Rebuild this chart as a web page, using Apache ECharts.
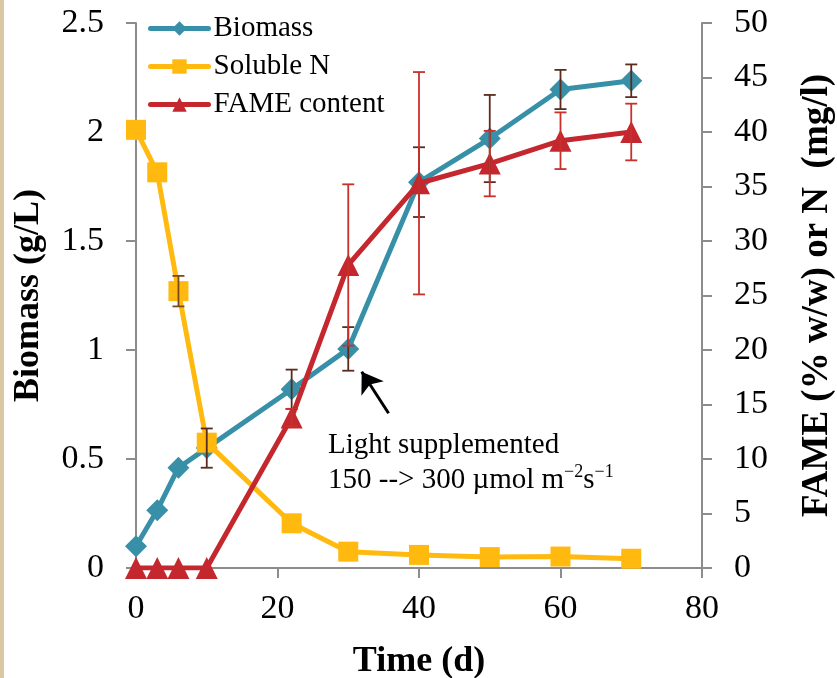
<!DOCTYPE html>
<html>
<head>
<meta charset="utf-8">
<script src="https://cdn.jsdelivr.net/npm/echarts@6/dist/echarts.min.js"></script>
<style>
  html, body { margin: 0; padding: 0; background: #fff; }
  #main { width: 837px; height: 678px; }
</style>
</head>
<body>
<div id="main"></div>
<script>
// data
var days = [0, 3, 6, 10, 22, 30, 40, 50, 60, 70];
var biomass = [0.10, 0.265, 0.46, 0.55, 0.82, 1.005, 1.77, 1.97, 2.195, 2.235];
var biomassErr = [0, 0, 0, 0.09, 0.09, 0.10, 0.16, 0.20, 0.09, 0.075];
var solubleN = [40.2, 36.3, 25.4, 11.5, 4.1, 1.5, 1.2, 1.0, 1.05, 0.85];
var solubleNErr = [0, 0, 1.4, 0, 0, 0, 0, 0, 0, 0];
var fame = [0, 0, 0, 0, 13.8, 27.8, 35.3, 37.1, 39.2, 40.0];
var fameErr = [0, 0, 0, 0, 0.8, 7.4, 10.2, 3.0, 2.6, 2.6];

var FONT = 'Liberation Serif';
var C_BIO = '#3890a8', C_N = '#ffb90f', C_FAME = '#c4282e';

function pairs(ys) { return days.map(function (d, i) { return [d, ys[i]]; }); }
function triples(ys, es) { return days.map(function (d, i) { return [d, ys[i], es[i]]; }); }

// I-beam error bars
function errBars(color) {
  return function (params, api) {
    var e = api.value(2);
    if (!e) return null;
    var x = api.value(0), y = api.value(1);
    var t = api.coord([x, y + e]), b = api.coord([x, y - e]);
    var w = 6, st = { stroke: color, lineWidth: 1.8 };
    return {
      type: 'group',
      children: [
        { type: 'line', shape: { x1: t[0], y1: t[1], x2: b[0], y2: b[1] }, style: st },
        { type: 'line', shape: { x1: t[0] - w, y1: t[1], x2: t[0] + w, y2: t[1] }, style: st },
        { type: 'line', shape: { x1: b[0] - w, y1: b[1], x2: b[0] + w, y2: b[1] }, style: st }
      ]
    };
  };
}

var myChart = echarts.init(document.getElementById('main'));
var axisLineStyle = { show: true, lineStyle: { color: '#8c8c8c', width: 2 } };
var tickStyle = { show: true, inside: false, length: 10, lineStyle: { color: '#8c8c8c', width: 2 } };
var labelStyle = { fontFamily: FONT, fontSize: 34, color: '#000', margin: 32 };
var titleStyle = { fontFamily: FONT, fontSize: 36, fontWeight: 'bold', color: '#000' };

var option = {
  backgroundColor: '#fff',
  animation: false,
  grid: { left: 136, right: 135, top: 23, bottom: 110, containLabel: false, outerBoundsMode: 'none' },
  legend: {
    orient: 'vertical',
    left: 143,
    top: 9,
    itemWidth: 58,
    itemHeight: 18,
    itemGap: 9,
    lineStyle: { width: 5, cap: 'round' },
    textStyle: { fontFamily: FONT, fontSize: 29, color: '#000' },
    data: ['Biomass', 'Soluble N', 'FAME content']
  },
  xAxis: {
    type: 'value',
    min: 0, max: 80, interval: 20,
    name: 'Time (d)',
    nameLocation: 'middle',
    nameGap: 76,
    nameTextStyle: titleStyle,
    axisLine: axisLineStyle,
    axisTick: tickStyle,
    axisLabel: Object.assign({}, labelStyle, { margin: 24 }),
    splitLine: { show: false }
  },
  yAxis: [{
    type: 'value',
    min: 0, max: 2.5, interval: 0.5,
    name: 'Biomass (g/L)',
    nameLocation: 'middle',
    nameGap: 89,
    nameTextStyle: titleStyle,
    axisLine: axisLineStyle,
    axisTick: tickStyle,
    axisLabel: labelStyle,
    splitLine: { show: false }
  }, {
    type: 'value',
    min: 0, max: 50, interval: 5,
    name: 'FAME (% w/w) or N  (mg/l)',
    nameLocation: 'middle',
    nameGap: 97,
    nameRotate: 90,
    nameTextStyle: Object.assign({}, titleStyle, { fontSize: 37 }),
    axisLine: axisLineStyle,
    axisTick: tickStyle,
    axisLabel: labelStyle,
    splitLine: { show: false }
  }],
  graphic: [
    { type: 'rect', left: 0, top: 0, shape: { width: 4, height: 678 }, style: { fill: '#d8c9a2' } },
    {
      type: 'text', left: 328, top: 428,
      style: {
        text: 'Light supplemented\n150 --> 300 \u00b5mol m{sup|\u22122}s{sup|\u22121}',
        fontFamily: FONT, fontSize: 29, lineHeight: 35, fill: '#000',
        rich: { sup: { fontFamily: FONT, fontSize: 18, verticalAlign: 'top', fill: '#000' } }
      }
    }
  ],
  series: [{
    name: 'Biomass',
    type: 'line',
    yAxisIndex: 0,
    data: pairs(biomass),
    symbol: 'diamond',
    symbolSize: 22,
    color: C_BIO,
    lineStyle: { width: 5, color: C_BIO },
    itemStyle: { color: C_BIO },
    z: 2,
    markLine: {
      silent: true,
      symbol: ['none', 'arrow'],
      symbolSize: 20,
      label: { show: false },
      lineStyle: { color: '#000', width: 3, type: 'solid' },
      data: [[{ coord: [35.7, 0.71] }, { coord: [31.9, 0.9] }]]
    }
  }, {
    name: 'Soluble N',
    type: 'line',
    yAxisIndex: 1,
    data: pairs(solubleN),
    symbol: 'rect',
    symbolSize: 20,
    color: C_N,
    lineStyle: { width: 5, color: C_N },
    itemStyle: { color: C_N },
    z: 3
  }, {
    name: 'FAME content',
    type: 'line',
    yAxisIndex: 1,
    data: pairs(fame),
    symbol: 'triangle',
    symbolSize: 22,
    color: C_FAME,
    lineStyle: { width: 5, color: C_FAME },
    itemStyle: { color: C_FAME },
    z: 4
  }, {
    type: 'custom', yAxisIndex: 0, z: 5, silent: true,
    renderItem: errBars('#5b2b1e'),
    data: triples(biomass, biomassErr)
  }, {
    type: 'custom', yAxisIndex: 1, z: 5, silent: true,
    renderItem: errBars('#7a4a1e'),
    data: triples(solubleN, solubleNErr)
  }, {
    type: 'custom', yAxisIndex: 1, z: 6, silent: true,
    renderItem: errBars('#c9302c'),
    data: triples(fame, fameErr)
  }]
};
myChart.setOption(option);
</script>
</body>
</html>
